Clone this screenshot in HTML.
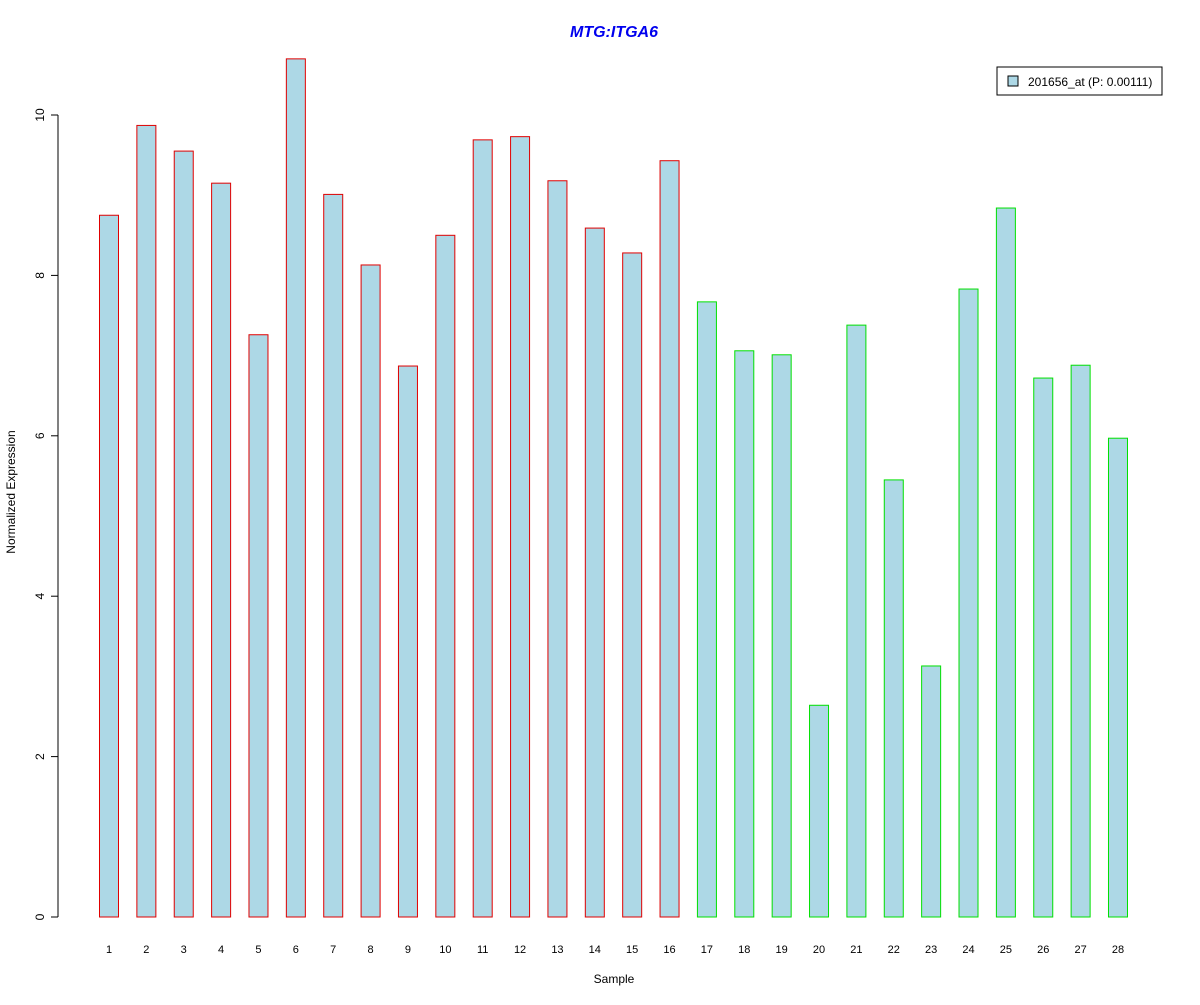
<!DOCTYPE html>
<html><head><meta charset="utf-8"><style>
body{margin:0;background:#fff;}
svg text{font-family:"Liberation Sans",Arial,sans-serif;}
</style></head><body>
<svg id="chart" width="1200" height="1000" xmlns="http://www.w3.org/2000/svg">
<rect width="1200" height="1000" fill="#fff"/>
<text x="614" y="37" text-anchor="middle" font-size="16" font-weight="bold" font-style="italic" fill="#0000ee">MTG:ITGA6</text>
<text x="614" y="983" text-anchor="middle" font-size="12">Sample</text>
<text transform="translate(15,492) rotate(-90)" text-anchor="middle" font-size="12">Normalized Expression</text>
<g id="yaxis"></g>
<g id="bars"></g>
<g id="xlabels"></g>
<g>
<rect x="997" y="67" width="165" height="28" fill="#fff" stroke="#000"/>
<rect x="1008" y="76" width="10" height="10" fill="#add8e6" stroke="#000"/>
<text x="1028" y="86" font-size="12">201656_at (P: 0.00111)</text>
</g>
</svg>
<script>
const samples = ["1","2","3","4","5","6","7","8","9","10","11","12","13","14","15","16","17","18","19","20","21","22","23","24","25","26","27","28"];
const values = [8.75,9.87,9.55,9.15,7.26,10.70,9.01,8.13,6.87,8.50,9.69,9.73,9.18,8.59,8.28,9.43,7.67,7.06,7.01,2.64,7.38,5.45,3.13,7.83,8.84,6.72,6.88,5.97];
const groups = ["a","a","a","a","a","a","a","a","a","a","a","a","a","a","a","a","b","b","b","b","b","b","b","b","b","b","b","b"];
const yTicks = [0,2,4,6,8,10];
const NS="http://www.w3.org/2000/svg";
const y0=917, pxPerUnit=80.2;
const yScale=v=>y0-v*pxPerUnit;
const xScale=i=>109+i*37.37;
const bw=19;
function mk(tag,attrs,parent){const e=document.createElementNS(NS,tag);for(const k in attrs)e.setAttribute(k,attrs[k]);parent.appendChild(e);return e;}
const ya=document.getElementById('yaxis');
mk('line',{x1:58,x2:58,y1:yScale(yTicks[0]),y2:yScale(yTicks[yTicks.length-1]),stroke:'#000'},ya);
yTicks.forEach(t=>{
  const y=yScale(t);
  const l=mk('line',{x1:51,x2:58,y1:y,y2:y,stroke:'#000'},ya);
  
  
  const tx=mk('text',{transform:`translate(44,${y}) rotate(-90)`,'text-anchor':'middle','font-size':12},ya);
  tx.textContent=t;
  
  
});
const bg=document.getElementById('bars'), xl=document.getElementById('xlabels');
values.forEach((v,i)=>{
  const cx=xScale(i);
  const r=mk('rect',{x:cx-bw/2,y:yScale(v),width:bw,height:yScale(0)-yScale(v),fill:'#add8e6',stroke:groups[i]==='a'?'#e00000':'#00e000'},bg);
  
  
  const t=mk('text',{x:cx,y:953,'text-anchor':'middle','font-size':11},xl);
  t.textContent=samples[i];
  
  
});
</script>
</body></html>
